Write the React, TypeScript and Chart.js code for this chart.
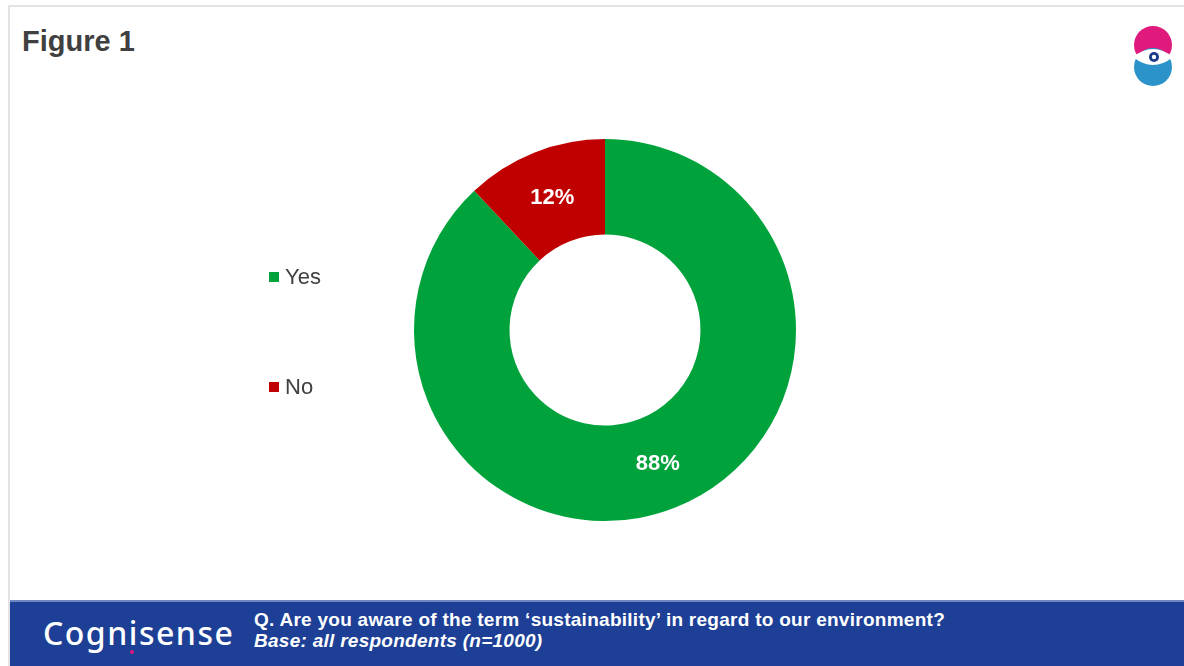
import React, { useEffect, useRef } from "react";
import { Chart, registerables } from "chart.js";

Chart.register(...registerables);

const categories = ["Yes", "No"];
const values = [88, 12];
const sliceColors = ["#00A33B", "#C00000"];
const valueLabels = ["88%", "12%"];

const titleText = "Figure 1";
const questionText = "Q. Are you aware of the term \u2018sustainability\u2019 in regard to our environment?";
const baseText = "Base: all respondents (n=1000)";
const brandText = "Cognisense";

const sliceLabelPlugin = {
  id: "sliceLabels",
  afterDatasetsDraw(chart: any) {
    const ctx = chart.ctx;
    const meta = chart.getDatasetMeta(0);
    ctx.save();
    ctx.fillStyle = "#ffffff";
    ctx.font = "bold 22px 'Liberation Sans', Arial, sans-serif";
    ctx.textAlign = "center";
    ctx.textBaseline = "middle";
    meta.data.forEach((arc: any, i: number) => {
      const p = arc.tooltipPosition();
      ctx.fillText(valueLabels[i], p.x, p.y + 1);
    });
    ctx.restore();
  },
};

const sideLegendPlugin = {
  id: "sideLegend",
  afterDraw(chart: any) {
    const ctx = chart.ctx;
    const labels = chart.data.labels as string[];
    const colors = chart.data.datasets[0].backgroundColor as string[];
    const x = 269;
    const ys = [277, 387];
    ctx.save();
    ctx.font = "22px 'Liberation Sans', Arial, sans-serif";
    ctx.textBaseline = "middle";
    ctx.textAlign = "left";
    labels.forEach((lab, i) => {
      ctx.fillStyle = colors[i];
      ctx.fillRect(x, ys[i] - 5, 10, 10);
      ctx.fillStyle = "#404040";
      ctx.fillText(lab, x + 16, ys[i] + 1);
    });
    ctx.restore();
  },
};

function DonutChart() {
  const ref = useRef<HTMLCanvasElement | null>(null);
  useEffect(() => {
    if (!ref.current) return;
    const chart = new Chart(ref.current, {
      type: "doughnut",
      data: {
        labels: categories,
        datasets: [
          {
            data: values,
            backgroundColor: sliceColors,
            borderWidth: 0,
          },
        ],
      },
      options: {
        responsive: false,
        animation: false,
        cutout: "50%",
        layout: { padding: { left: 414, right: 388, top: 139, bottom: 79 } },
        plugins: {
          legend: { display: false },
          tooltip: { enabled: false },
        },
      },
      plugins: [sliceLabelPlugin, sideLegendPlugin],
    });
    return () => chart.destroy();
  }, []);
  return (
    <canvas
      ref={ref}
      width={1184}
      height={600}
      style={{ position: "absolute", left: 0, top: 0, width: 1184, height: 600 }}
    />
  );
}

export default function App() {
  return (
    <div
      style={{
        position: "fixed",
        left: 0,
        top: 0,
        width: 1184,
        height: 666,
        background: "#ffffff",
        overflow: "hidden",
        fontFamily: "'Liberation Sans', Arial, sans-serif",
      }}
    >
      <div
        style={{
          position: "absolute",
          left: 8,
          top: 5,
          width: 1176,
          height: 661,
          borderTop: "2px solid #e3e3e3",
          borderLeft: "2px solid #e3e3e3",
          boxSizing: "border-box",
        }}
      />
      <div
        style={{
          position: "absolute",
          left: 22,
          top: 24,
          fontSize: 29,
          fontWeight: 700,
          color: "#404040",
          lineHeight: "34px",
        }}
      >
        {titleText}
      </div>
      <svg
        width={60}
        height={80}
        style={{ position: "absolute", left: 1124, top: 18 }}
        viewBox="1124 18 60 80"
      >
        <circle cx={1153} cy={45} r={19} fill="#E0197D" />
        <circle cx={1153} cy={67} r={19} fill="#2B93C9" />
        <path d="M1133,57 Q1153,41 1173,57 Q1153,73 1133,57 Z" fill="#ffffff" />
        <circle cx={1154} cy={57} r={5} fill="#1B3A8C" />
        <circle cx={1154} cy={57} r={2.2} fill="#ffffff" />
      </svg>
      <DonutChart />
      <div
        style={{
          position: "absolute",
          left: 10,
          top: 600,
          width: 1174,
          height: 66,
          background: "#1D3F96",
          borderTop: "2px solid #7088c2",
          boxSizing: "border-box",
        }}
      >
        <div
          style={{
            position: "absolute",
            left: 33,
            top: 11,
            fontFamily: "'Noto Sans', sans-serif",
            fontSize: 32,
            fontWeight: 500,
            letterSpacing: 1.5,
            color: "#ffffff",
            lineHeight: "40px",
          }}
        >
          {brandText}
        </div>
        <div
          style={{
            position: "absolute",
            left: 120,
            top: 48,
            width: 4,
            height: 4,
            borderRadius: 2,
            background: "#E0197D",
          }}
        />
        <div
          style={{
            position: "absolute",
            left: 244,
            top: 7,
            fontSize: 19,
            fontWeight: 700,
            letterSpacing: 0.27,
            color: "#ffffff",
            lineHeight: "22px",
            whiteSpace: "nowrap",
          }}
        >
          {questionText}
        </div>
        <div
          style={{
            position: "absolute",
            left: 244,
            top: 28,
            fontSize: 19,
            fontWeight: 700,
            fontStyle: "italic",
            letterSpacing: 0.27,
            color: "#ffffff",
            lineHeight: "22px",
            whiteSpace: "nowrap",
          }}
        >
          {baseText}
        </div>
      </div>
    </div>
  );
}
